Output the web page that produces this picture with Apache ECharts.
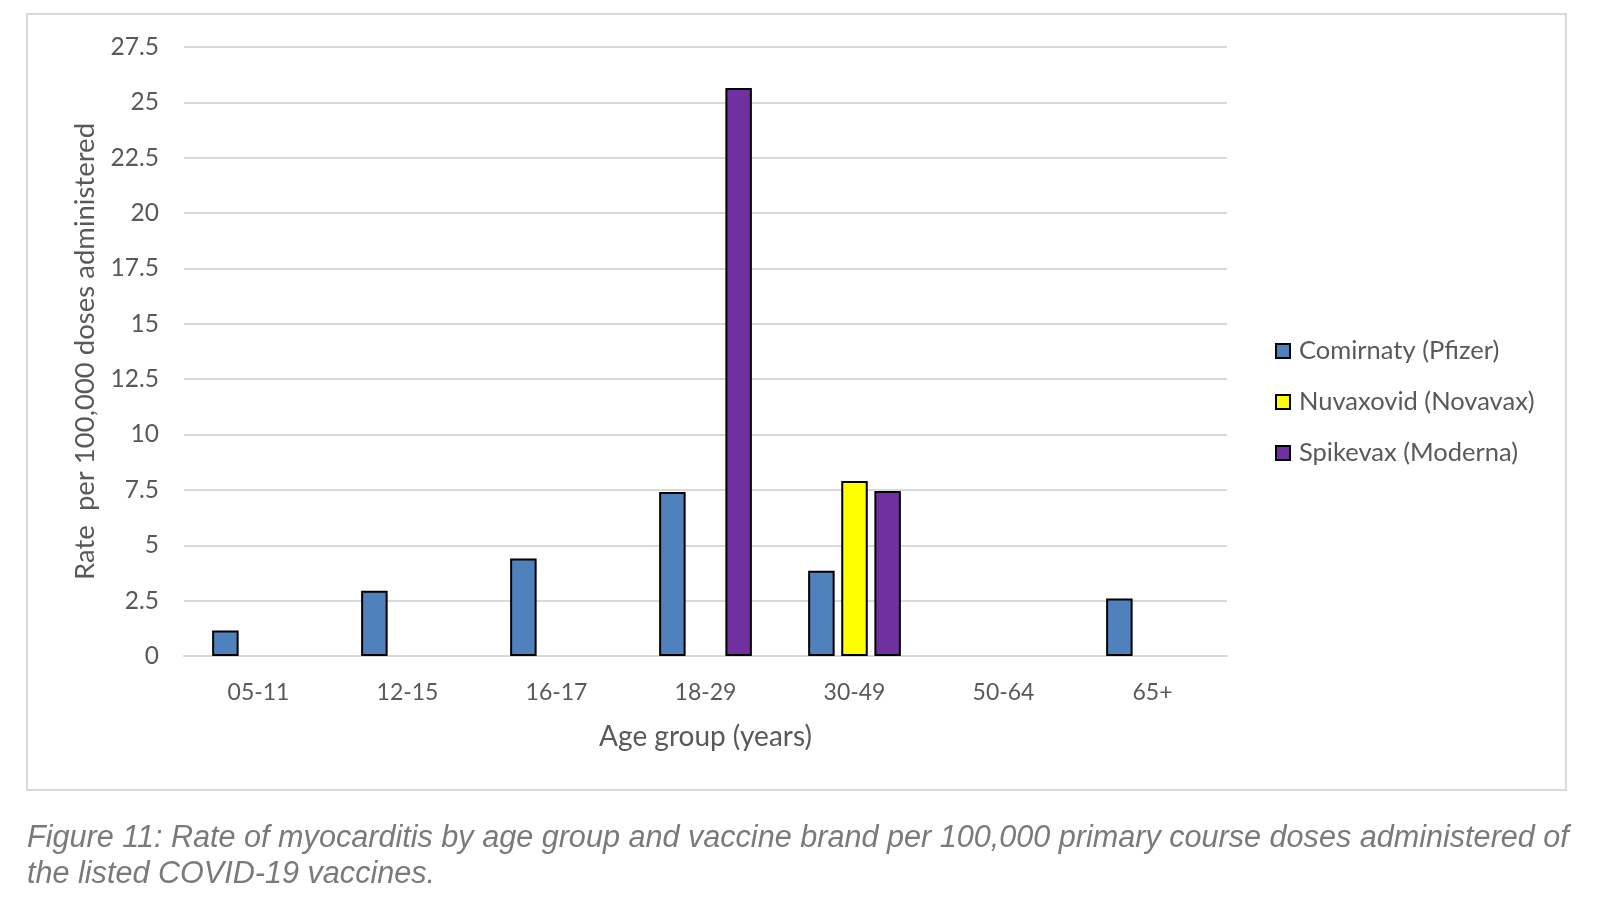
<!DOCTYPE html>
<html>
<head>
<meta charset="utf-8">
<script src="https://cdn.jsdelivr.net/npm/echarts@6/dist/echarts.min.js"></script>
<style>
html,body{margin:0;padding:0;background:#fff;}
#c{width:1602px;height:910px;}
</style>
</head>
<body>
<div id="c"></div>
<script>
const categories = ['05-11','12-15','16-17','18-29','30-49','50-64','65+'];
const pfizer    = [1.15, 2.95, 4.4, 7.4, 3.85, null, 2.6];
const novavax   = [null, null, null, null, 7.9, null, null];
const moderna   = [null, null, null, 25.65, 7.45, null, null];
const seriesNames = ['Comirnaty (Pfizer)','Nuvaxovid (Novavax)','Spikevax (Moderna)'];
const yAxisName = 'Rate  per 100,000 doses administered';
const xAxisName = 'Age group (years)';
const captionText = 'Figure 11: Rate of myocarditis by age group and vaccine brand per 100,000 primary course doses administered of\nthe listed COVID-19 vaccines.';

const FONT = 'Lato';
const chart = echarts.init(document.getElementById('c'), null, {renderer:'canvas'});
const barStyle = (color) => ({color: color, borderColor: '#000', borderWidth: 2});
chart.setOption({
  animation: false,
  backgroundColor: '#fff',
  textStyle: {fontFamily: FONT},
  graphic: [
    {type:'rect', shape:{x:27, y:14, width:1539, height:776}, style:{fill:'none', stroke:'#d9d9d9', lineWidth:2}, z:-1},
    {type:'text', left:27, top:820, style:{text: captionText, fill:'#7a7a7a', font:'italic 30.6px "Liberation Sans"', lineHeight:36}}
  ],
  grid: {left:184, right:375, top:47, bottom:254},
  legend: {
    orient:'vertical', left:1270, top:333, itemWidth:14, itemHeight:14, itemGap:25, icon:'rect',
    textStyle:{fontFamily:FONT, fontSize:25.5, color:'#595959', padding:[0,0,0,4]},
    data: seriesNames
  },
  xAxis: {
    type:'category', data: categories,
    axisLine:{lineStyle:{color:'#d9d9d9', width:2}}, axisTick:{show:false},
    axisLabel:{fontFamily:FONT, fontSize:23, color:'#595959', margin:25},
    name:xAxisName, nameLocation:'middle', nameGap:67,
    nameTextStyle:{fontFamily:FONT, fontSize:28, color:'#595959'}
  },
  yAxis: {
    type:'value', min:0, max:27.5, interval:2.5,
    axisLine:{show:false}, axisTick:{show:false},
    splitLine:{lineStyle:{color:'#d9d9d9', width:2}},
    axisLabel:{fontFamily:FONT, fontSize:24.5, color:'#595959', margin:25},
    name:yAxisName, nameLocation:'middle', nameGap:85, nameRotate:90,
    nameTextStyle:{fontFamily:FONT, fontSize:27.5, color:'#595959'}
  },
  series: [
    {name:seriesNames[0], type:'bar', data:pfizer, barWidth:26.5, barGap:'25%', itemStyle:barStyle('#4f81bd')},
    {name:seriesNames[1], type:'bar', data:novavax, barWidth:26.5, barGap:'25%', itemStyle:barStyle('#ffff00')},
    {name:seriesNames[2], type:'bar', data:moderna, barWidth:26.5, barGap:'25%', itemStyle:barStyle('#7030a0')}
  ]
});
</script>
</body>
</html>
